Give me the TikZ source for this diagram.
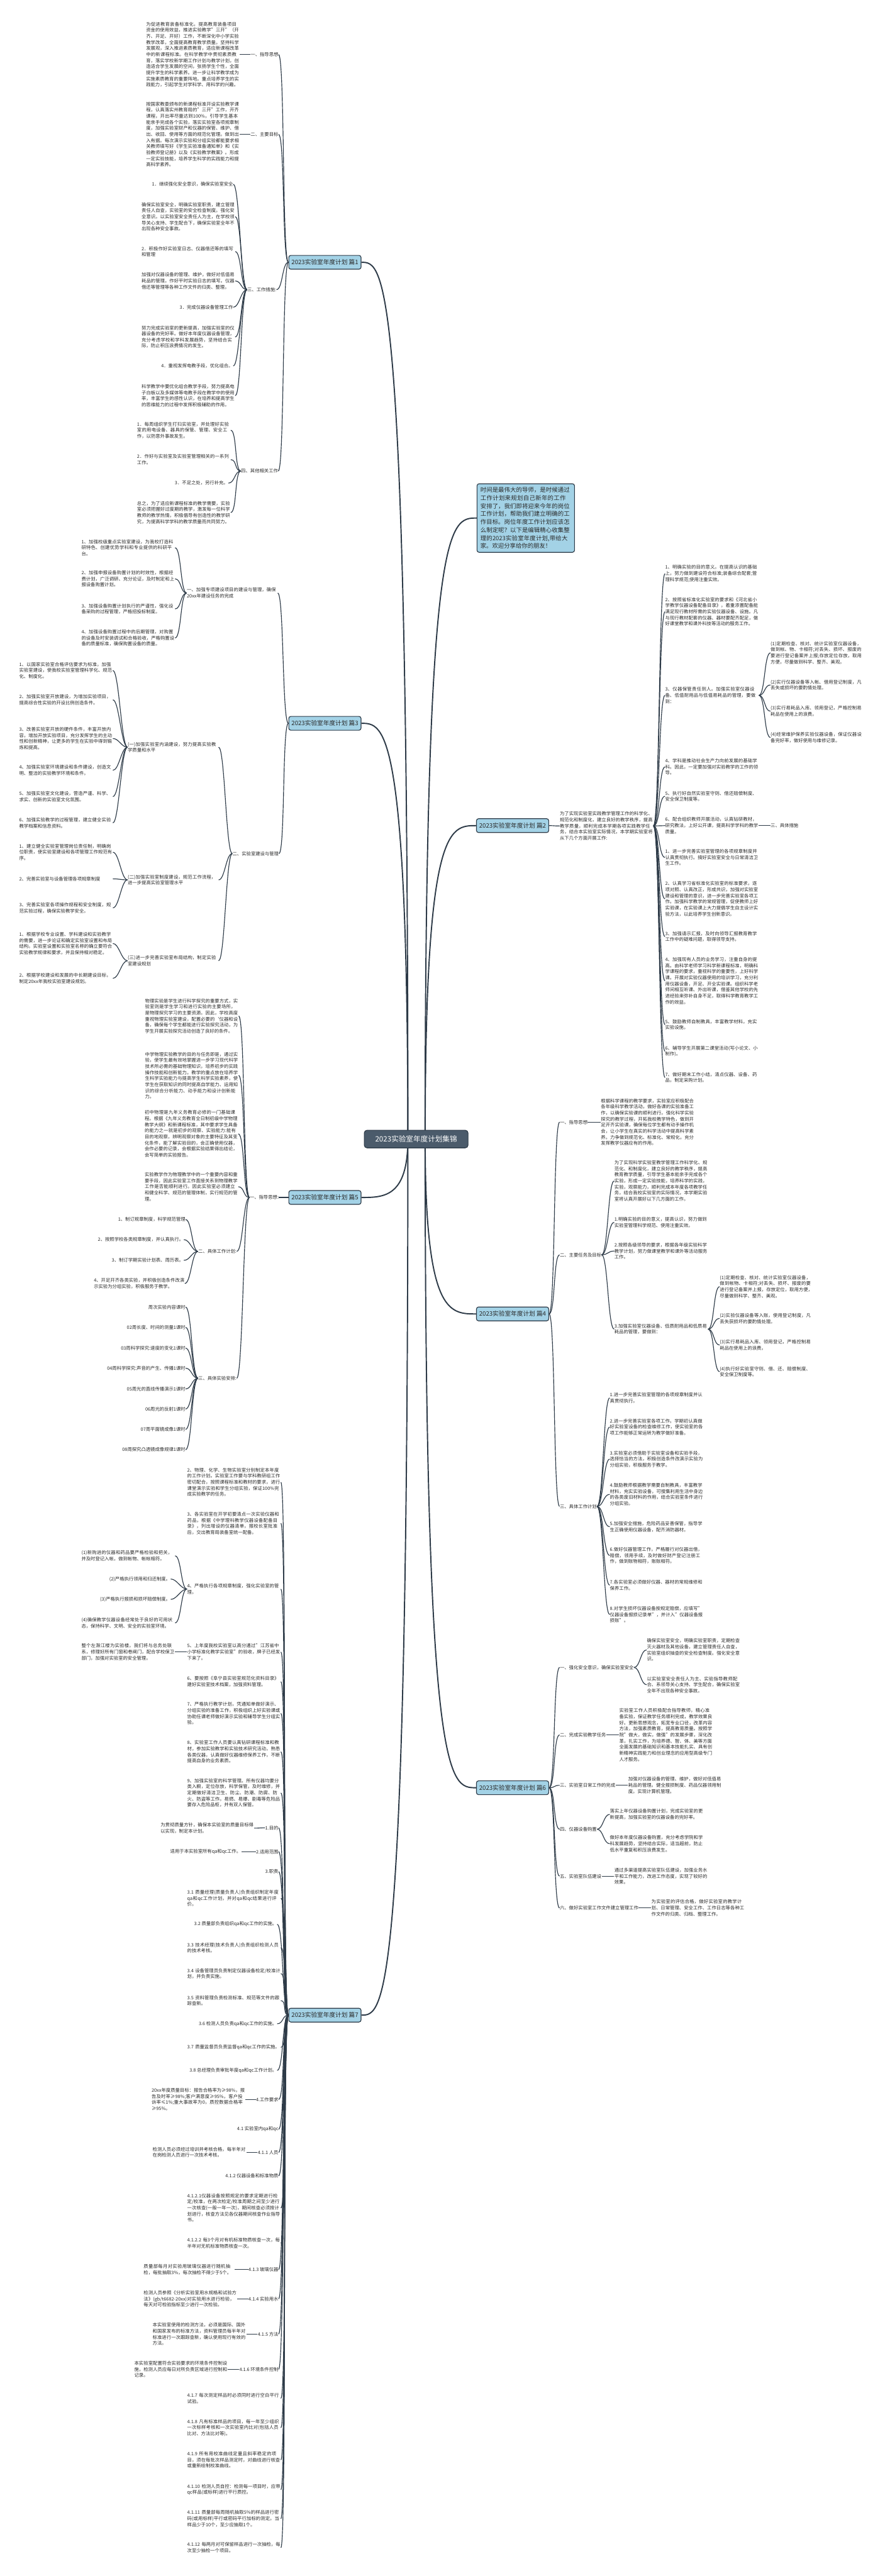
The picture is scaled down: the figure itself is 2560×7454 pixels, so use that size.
\documentclass[tikz,border=0pt]{standalone}
\usepackage{fontspec}
\setmainfont{Noto Sans CJK SC}
\XeTeXlinebreaklocale "zh"
\XeTeXlinebreakskip=0pt plus 0.4pt
\definecolor{linec}{HTML}{2E3B48}
\definecolor{boxc}{HTML}{A3D2E6}
\definecolor{cenc}{HTML}{4B5B6B}
\definecolor{txtc}{HTML}{2A2A2A}
\newcommand\tbfont{\fontsize{3.8pt}{5pt}\selectfont}
\pgfdeclarelayer{bg}
\pgfsetlayers{bg,main}
\tikzset{
 tb/.style={font=\tbfont, align=left, text width=2.7cm, inner sep=0pt, text=txtc},
 lb/.style={font=\tbfont, inner sep=0pt, text=txtc},
 pian/.style={draw=linec, line width=0.6pt, fill=boxc, rounded corners=0.6mm, minimum width=2.09cm, minimum height=0.40cm, inner sep=0pt, font=\fontsize{5pt}{6pt}\selectfont, text=txtc},
 conn/.style={draw=linec, line width=0.6pt},
 mainconn/.style={draw=linec, line width=1pt},
}
\newcommand\linkL[2]{\draw[conn] (#1.west) .. controls +(-18,0) and +(18,0) .. (#2.east);}
\newcommand\linkR[2]{\draw[conn] (#1.east) .. controls +(18,0) and +(-18,0) .. (#2.west);}
\begin{document}
\begin{tikzpicture}[x=0.01cm,y=-0.01cm]
\useasboundingbox (0,0) rectangle (2560,7454);
% ---------------- center
\node[draw=linec, line width=0.6pt, fill=cenc, text=white, rounded corners=0.8mm, minimum width=3.0cm, minimum height=0.51cm, inner sep=0pt, font=\fontsize{6pt}{7pt}\selectfont] (c) at (1204,3296) {2023实验室年度计划集锦};
% ---------------- boxes
\node[pian] (p1) at (940,759) {2023实验室年度计划 篇1};
\node[pian] (p3) at (940,2093) {2023实验室年度计划 篇3};
\node[pian] (p5) at (940,3465) {2023实验室年度计划 篇5};
\node[pian] (p7) at (940,5831) {2023实验室年度计划 篇7};
\node[pian] (p2) at (1483,2389) {2023实验室年度计划 篇2};
\node[pian] (p4) at (1483,3802) {2023实验室年度计划 篇4};
\node[pian] (p6) at (1483,5173) {2023实验室年度计划 篇6};
\node[draw=linec, line width=0.6pt, fill=boxc, rounded corners=0.6mm, text width=2.62cm, inner sep=1mm, align=left, font=\fontsize{4.85pt}{6.6pt}\selectfont, text=txtc, anchor=west] (intro) at (1379,1499) {时间是最伟大的导师，是时候通过工作计划来规划自己新年的工作安排了，我们即将迎来今年的岗位工作计划，帮助我们建立明确的工作目标。岗位年度工作计划应该怎么制定呢？以下是编辑精心收集整理的2023实验室年度计划,带给大家。欢迎分享给你的朋友！};
% ================= 篇1
\node[lb,anchor=east] (a1) at (806,158) {一、指导思想};
\node[tb,anchor=west] (a1t) at (422,158) {为促进教育装备标准化，提高教育装备项目资金的使用效益，推进实验教学"三开"（开齐、开足、开好）工作，不断深化中小学实验教学改革，全面提高教育教学质量。坚持科学发展观，深入推进素质教育，适应新课程改革中的新课程标准。在科学教学中贯彻素质教育，落实学校新学期工作计划与教学计划，创造适合学生发展的空间，张扬学生个性，全面提升学生的科学素养。进一步让科学教学成为实施素质教育的重要阵地。重点培养学生的实践能力，引起学生对学科学、用科学的兴趣。};
\node[lb,anchor=east] (a2) at (806,389) {二、主要目标};
\node[tb,anchor=west] (a2t) at (422,389) {按国家教委颁布的新课程标准开设实验教学课程，认真落实州教育局的"三开"工作，开齐课程，开出率尽量达到100\%，引导学生基本能亲手完成各个实验，落实实验室各项规章制度，加强实验室财产和仪器的保管、维护、借出、收回、使用等方面的规范化管理。做到出入有据。每次演示实验和分组实验都能要求相关教师填写好《学生实验准备通知单》和《实验教师登记册》以及《实验教学教案》。形成一定实验技能，培养学生科学的实践能力和提高科学素养。};
\node[lb,anchor=east] (a3) at (800,838) {三、工作措施:};
\node[lb,anchor=east] (a31) at (675,533) {1．继续强化安全意识，确保实验室安全};
\node[tb,anchor=west] (a32) at (409,627) {确保实验室安全，明确实验室职责，建立管理责任人自查，实验室的安全检查制度。强化安全意识。以实验室安全责任人为主，在学校领导关心支持、学生配合下，确保实验室全年不出现各种安全事故。};
\node[tb,anchor=west] (a33) at (409,728) {2．积极作好实验室日志、仪器借还等的填写和管理};
\node[tb,anchor=west] (a34) at (409,813) {加强对仪器设备的管理、维护，做好对低值易耗品的管理。作好平时实验日志的填写。仪器借还等管理等各种工作文件的归类、整理。};
\node[lb,anchor=east] (a35) at (675,889) {3．完成仪器设备管理工作};
\node[tb,anchor=west] (a36) at (409,975) {努力完成实验室的更新提高，加强实验室的仪器设备的完好率。做好本年度仪器设备管理，充分考虑学校和学科发展趋势，坚持结合实际，防止积压浪费情况的发生。};
\node[lb,anchor=east] (a37) at (675,1059) {4．重视发挥电教手段，优化组合。};
\node[tb,anchor=west] (a38) at (409,1145) {科学教学中要优化组合教学手段，努力提高电子白板以及多媒体等电教手段在教学中的使用率，丰富学生的感性认识，在培养和提高学生的思维能力的过程中发挥积极辅助的作用。};
\node[lb,anchor=east] (a4) at (805,1363) {四、其他相关工作};
\node[tb,anchor=west] (a41) at (396,1245) {1．每周组织学生打扫实验室，并处理好实验室的用电设备、器具的保管、管理、安全工作，以防意外事故发生。};
\node[tb,anchor=west] (a42) at (396,1330) {2．作好与实验室及实验室管理相关的一系列工作。};
\node[lb,anchor=east] (a43) at (661,1398) {3．不足之处，另行补充。};
\node[tb,anchor=west] (a44) at (396,1483) {总之，为了适应新课程标准的教学需要，实验室必须把握好过度期的教学，激发每一位科学教师的教学热情，积极倡导有创造性的教学研究，为提高科学学科的教学质量而共同努力。};
% ================= 篇3
\node[tb,anchor=west,text width=2.62cm] (b1) at (540,1716) {一、加强专项建设项目的建设与管理，确保20xx年建设任务的完成};
\node[tb,anchor=west] (b11) at (235,1585) {1、加强校级重点实验室建设，为我校打造科研特色、创建优势学科和专业提供的科研平台。};
\node[tb,anchor=west] (b12) at (235,1675) {2、加强申报设备购置计划的时效性，根据经费计划，广泛调研、充分论证，及时制定和上报设备购置计划。};
\node[tb,anchor=west] (b13) at (235,1762) {3、加强设备购置计划执行的严谨性，强化设备采购的过程管理，严格招投标制度。};
\node[tb,anchor=west] (b14) at (235,1846) {4、加强设备购置过程中的后期管理，对购置的设备及时安装调试和合格验收，严格购置设备的质量标准，确保购置设备的质量。};
\node[lb,anchor=east] (b2) at (807,2470) {二、实验室建设与管理};
\node[tb,anchor=west,text width=2.62cm] (b2a) at (369,2162) {(一)加强实验室内涵建设，努力提高实验教学质量和水平};
\node[tb,anchor=west] (b2a1) at (55,1940) {1、以国家实验室合格评估要求为标准，加强实验室建设，使我校实验室管理科学化、规范化、制度化。};
\node[tb,anchor=west] (b2a2) at (55,2025) {2、加强实验室开放建设，为增加实验项目，提高综合性实验的开设比例创造条件。};
\node[tb,anchor=west] (b2a3) at (55,2137) {3、改善实验室开放的硬件条件，丰富开放内容，增加开放实验项目，充分发挥学生的主动性和创新精神，让更多的学生在实验中得到锻炼和提高。};
\node[tb,anchor=west] (b2a4) at (55,2229) {4、加强实验室环境建设和条件建设，创造文明、整洁的实验教学环境和条件。};
\node[tb,anchor=west] (b2a5) at (55,2305) {5、加强实验室文化建设，营造严谨、科学、求实、创新的实验室文化氛围。};
\node[tb,anchor=west] (b2a6) at (55,2381) {6、加强实验教学的过程管理，建立健全实验教学档案和信息资料。};
\node[tb,anchor=west,text width=2.62cm] (b2b) at (369,2546) {(二)加强实验室制度建设，规范工作流程，进一步提高实验室管理水平};
\node[tb,anchor=west] (b2b1) at (55,2466) {1、建立健全实验室管理岗位责任制，明确岗位职责，使实验室建设和各项管理工作规范有序。};
\node[tb,anchor=west] (b2b2) at (55,2543) {2、完善实验室与设备管理各项规章制度};
\node[tb,anchor=west] (b2b3) at (55,2627) {3、完善实验室各项操作规程和安全制度，规范实验过程，确保实验教学安全。};
\node[tb,anchor=west,text width=2.62cm] (b2c) at (369,2780) {(三)进一步完善实验室布局结构，制定实验室建设规划};
\node[tb,anchor=west] (b2c1) at (55,2730) {1、根据学校专业设置、学科建设和实验教学的需要，进一步论证和确定实验室设置和布局结构。实验室设置和实验室名称的确立要符合实验教学规律和要求，并且保持相对稳定。};
\node[tb,anchor=west] (b2c2) at (55,2831) {2、根据学校建设和发展的中长期建设目标，制定20xx年我校实验室建设规划。};
% ================= 篇5
\node[lb,anchor=east] (c1) at (807,3465) {一、指导思想:};
\node[tb,anchor=west] (c11) at (419,2940) {物理实验是学生进行科学探究的重要方式，实验室则是学生学习和进行实验的主要场所，是物理探究学习的主要资源。因此，学校高度重视物理实验室建设，配置必要的`仪器和设备，确保每个学生都能进行实验探究活动，为学生开展实验探究活动创造了良好的条件。};
\node[tb,anchor=west] (c12) at (419,3112) {中学物理实验教学的目的与任务即是，通过实验，使学生最有效地掌握进一步学习现代科学技术所必需的基础物理知识，培养初步的实践操作技能和创新能力。教学的重点放在培养学生科学实验能力与提高学生科学实验素养，使学生在获取知识的同时提高自学能力、运用知识的综合分析能力、动手能力和设计创新能力。};
\node[tb,anchor=west] (c13) at (418,3281) {初中物理是九年义务教育必修的一门基础课程。根据《九年义务教育全日制初级中学物理教学大纲》和新课程标准，其中要求学生具备的能力之一就是初步的观察、实验能力:能有目的地观察，辨明观察对象的主要特征及其变化条件，能了解实验目的，会正确使用仪器，会作必要的记录，会根据实验结果得出结论，会写简单的实验报告。};
\node[tb,anchor=west] (c14) at (418,3434) {实验教学作为物理教学中的一个重要内容和重要手段，因此实验室工作直接关系到物理教学工作是否能顺利进行。因此实验室必须建立和健全科学、规范的管理体制，实行规范的管理。};
\node[lb,anchor=east] (c2) at (685,3621) {二、具体工作计划:};
\node[lb,anchor=east] (c21) at (537,3529) {1、制订规章制度，科学规范管理};
\node[lb,anchor=east] (c22) at (532,3587) {2、按照学校各类规章制度，并认真执行。};
\node[lb,anchor=east] (c23) at (532,3647) {3、制订学期实验计划表、周历表。};
\node[tb,anchor=west,text width=2.62cm] (c24) at (271,3714) {4、开足开齐各类实验，并积极创造条件改演示实验为分组实验，积极服务于教学。};
\node[lb,anchor=east] (c3) at (685,3988) {三、具体实验安排:};
\node[lb,anchor=east] (c31) at (537,3782) {周次实验内容课时};
\node[lb,anchor=east] (c32) at (537,3841) {02周长度、时间的测量1课时};
\node[lb,anchor=east] (c33) at (537,3901) {03周科学探究:速度的变化1课时};
\node[lb,anchor=east] (c34) at (537,3959) {04周科学探究:声音的产生、传播1课时};
\node[lb,anchor=east] (c35) at (537,4019) {05周光的直线传播演示1课时};
\node[lb,anchor=east] (c36) at (537,4077) {06周光的反射1课时};
\node[lb,anchor=east] (c37) at (537,4136) {07周平面镜成像1课时};
\node[lb,anchor=east] (c38) at (537,4195) {08周探究凸透镜成像规律1课时};
% ================= 篇7
\node[tb,anchor=west] (d2) at (541,4289) {2、物理、化学、生物实验室分别制定本年度的工作计划。实验室工作要与学科教研组工作密切配合，按照课程标准和教材的要求，进行课堂演示实验和学生分组实验，保证100\%完成实验教学的任务。};
\node[tb,anchor=west] (d3) at (541,4408) {3、各实验室在开学初要清点一次实验仪器和药品，根据《中学理科教学仪器设备配备目录》，列出增设的仪器清单，报校长室批准后，交出教育局装备室统一配备。};
\node[tb,anchor=west] (d4) at (541,4598) {4、严格执行各项规章制度，强化实验室的管理。};
\node[tb,anchor=west] (d41) at (235,4502) {(1)新购进的仪器和药品要严格检验和把关，并及时登记入帐，做到帐物、帐帐相符。};
\node[lb,anchor=east] (d42) at (494,4569) {(2)严格执行领用和归还制度。};
\node[lb,anchor=east] (d43) at (494,4628) {(3)严格执行报损和损坏赔偿制度。};
\node[tb,anchor=west] (d44) at (235,4696) {(4)确保教学仪器设备经常处于良好的可用状态，保持科学、文明、安全的实验室环境。};
\node[tb,anchor=west] (d5) at (541,4780) {5、上年度我校实验室以高分通过"江苏省中小学标准化教学实验室"的验收，牌子已经发下来了。};
\node[tb,anchor=west] (d51) at (235,4780) {整个左滁江楼为实验楼，我们将与总务处联系，修理好所有门窗和卷闸门，配合学校保卫部门，加强对实验室的安全管理。};
\node[tb,anchor=west] (d6) at (541,4866) {6、要按照《阜宁县实验室规范化资料目录》建好实验室技术档案，加强资料管理。};
\node[tb,anchor=west] (d7) at (541,4958) {7、严格执行教学计划，凭通知单做好演示、分组实验的准备工作，积极组织上好实验课或协助任课老师做好演示实验和辅导学生分组实验。};
\node[tb,anchor=west] (d8) at (541,5069) {8、实验室工作人员要认真钻研课程标准和教材，参加实验教学和实验技术研究活动，熟悉各类仪器，认真做好仪器维修保养工作，不断提高自身的业务素质。};
\node[tb,anchor=west] (d9) at (541,5188) {9、加强实验室的科学管理。所有仪器均要分类入橱，定位存放，科学保管，及时维修，并定期做好清洁卫生、防尘、防潮、防腐、防火、防盗等工作。易燃、易爆、剧毒等危险品要存入危险品柜，并有双人保管。};
\node[lb,anchor=east] (q1) at (806,5289) {1.目的};
\node[tb,anchor=west] (q1t) at (464,5290) {为贯彻质量方针，确保本实验室的质量目标得以实现，制定本计划。};
\node[lb,anchor=east] (q2) at (806,5358) {2.适用范围};
\node[lb,anchor=east] (q2t) at (698,5358) {适用于本实验室所有qa和qc工作。};
\node[lb,anchor=east] (q3) at (806,5416) {3.职责};
\node[tb,anchor=west] (q31) at (541,5493) {3.1 质量经理(质量负责人)负责组织制定年度qa和qc工作计划，并对qa和qc结果进行评价。};
\node[lb,anchor=east] (q32) at (802,5568) {3.2 质量部负责组织qa和qc工作的实施。};
\node[tb,anchor=west] (q33) at (541,5636) {3.3 技术经理(技术负责人)负责组织检测人员的技术考核。};
\node[tb,anchor=west] (q34) at (541,5711) {3.4 设备管理员负责制定仪器设备检定/校准计划，并负责实施。};
\node[tb,anchor=west] (q35) at (541,5789) {3.5 资料管理负责检测标准、规范等文件的跟踪查新。};
\node[lb,anchor=east] (q36) at (802,5856) {3.6 检测人员负责qa和qc工作的实施。};
\node[tb,anchor=west] (q37) at (541,5924) {3.7 质量监督员负责监督qa和qc工作的实施。};
\node[lb,anchor=east] (q38) at (802,5991) {3.8 总经理负责审批年度qa和qc工作计划。};
\node[lb,anchor=east] (q4) at (806,6075) {4.工作要求};
\node[tb,anchor=west] (q4t) at (438,6075) {20xx年度质量目标：报告合格率为≥98\%，报告及时率≥98\%;客户满意度≥95\%，客户投诉率≤1\%;重大事故率为0，质控数据合格率≥95\%。};
\node[lb,anchor=east] (q41) at (806,6161) {4.1 实验室内qa和qc};
\node[lb,anchor=east] (q411) at (806,6228) {4.1.1 人员};
\node[tb,anchor=west] (q411t) at (441,6228) {检测人员必须经过培训并考核合格，每半年对在岗检测人员进行一次技术考核。};
\node[lb,anchor=east] (q412) at (806,6296) {4.1.2 仪器设备和标准物质};
\node[tb,anchor=west] (q4121) at (541,6389) {4.1.2.1仪器设备按照规定的要求定期进行检定/校准，在两次检定/校准周期之间至少进行一次核查(一般一年一次)，期间核查必须按计划进行，核查方法见各仪器期间核查作业指导书。};
\node[tb,anchor=west] (q4122) at (541,6491) {4.1.2.2 每3个月对有机标准物质核查一次，每半年对无机标准物质核查一次。};
\node[lb,anchor=east] (q413) at (806,6567) {4.1.3 玻璃仪器};
\node[tb,anchor=west,text width=2.62cm] (q413t) at (415,6567) {质量部每月对实验用玻璃仪器进行随机抽检，每批抽取3\%，每次抽检不得少于5个。};
\node[lb,anchor=east] (q414) at (806,6652) {4.1.4 实验用水};
\node[tb,anchor=west] (q414t) at (415,6652) {检测人员参照《分析实验室用水规格和试验方法》(gb/t6682-20xx)对实验用水进行检验，每天对可检验指标至少进行一次检验。};
\node[lb,anchor=east] (q415) at (806,6754) {4.1.5 方法};
\node[tb,anchor=west] (q415t) at (441,6754) {本实验室使用的检测方法，必须是国际、国外和国家发布的标准方法，资料管理员每半年对标准进行一次跟踪查新，确认使用现行有效的方法。};
\node[lb,anchor=east] (q416) at (806,6856) {4.1.6 环境条件控制};
\node[tb,anchor=west] (q416t) at (388,6856) {本实验室配置符合实验要求的环境条件控制设施，检测人员应每日对所负责区域进行控制和记录。};
\node[tb,anchor=west] (q417) at (541,6940) {4.1.7 每次测定样品时必须同时进行空白平行试验。};
\node[tb,anchor=west] (q418) at (541,7025) {4.1.8 凡有标准样品的项目，每一年至少组织一次标样考核和一次实验室内比对(包括人员比对、方法比对等)。};
\node[tb,anchor=west] (q419) at (541,7118) {4.1.9 所有用校准曲线定量且斜率稳定的项目，须在每批次样品测定时，对曲线进行核查或重新绘制校准曲线。};
\node[tb,anchor=west] (q4110) at (541,7204) {4.1.10 检测人员自控：检测每一项目时，应带qc样品(或标样)进行平行质控。};
\node[tb,anchor=west] (q4111) at (541,7288) {4.1.11 质量部每周随机抽取5\%的样品进行密码(或用标样)平行或密码平行加标的测定。当样品少于10个，至少应抽取1个。};
\node[tb,anchor=west] (q4112) at (541,7372) {4.1.12 每两月对可保留样品进行一次抽检，每次至少抽检一个项目。};
% ================= 篇2
\node[tb,anchor=west] (e0) at (1619,2390) {为了实现实验室实践教学管理工作的科学化、规范化和制度化，建立良好的教学秩序，提高教学质量，顺利完成本学期各项实践教学任务，结合本实验室实际情况，本学期实验室将从下几个方面开展工作:};
\node[tb,anchor=west] (e1) at (1924,1660) {1、明确实验的目的意义。在提高认识的基础上，努力做到建设符合标准;装备综合配套;管理科学规范;使用注重实效。};
\node[tb,anchor=west] (e2) at (1924,1770) {2、按照省标准化实验室的要求和《河北省小学教学仪器设备配备目录》，着重添置配备能满足现行教材所需的实验仪器设备、设施。凡与现行教材配套的仪器、器材要配齐配足，做好课堂教学和课外科技等活动的服务工作。};
\node[tb,anchor=west] (e3) at (1924,2012) {3、仪器保管责任到人。加强实验室仪器设备、低值耐用品与低值易耗品的管理，要做到：};
\node[tb,anchor=west] (e31) at (2229,1889) {(1)定期检查、核对、统计实验室仪器设备，做到帐、物、卡相符;对丢失、损坏、报废的要进行登记备案并上报;存放定位存放，取用方便，尽量做到科学、整齐、美观。};
\node[tb,anchor=west] (e32) at (2229,1982) {(2)实行仪器设备等入帐、借用登记制度，凡丢失或损坏的要酌情处理。};
\node[tb,anchor=west] (e33) at (2229,2058) {(3)实行易耗品入库、领用登记，严格控制易耗品在使用上的浪费。};
\node[tb,anchor=west] (e34) at (2229,2134) {(4)经常维护保养实验仪器设备，保证仪器设备完好率，做好使用与维修记录。};
\node[tb,anchor=west] (e4) at (1924,2219) {4、学科是推动社会生产力向前发展的基础学科。因此，一定要加强对实验教学的工作的领导。};
\node[tb,anchor=west] (e5) at (1924,2304) {5、执行好自然实验室守则、借还赔偿制度、安全保卫制度等。};
\node[tb,anchor=west] (e6) at (1924,2389) {6、配合组织教师开展活动，认真钻研教材，研究教法，上好公开课，提高科学学科的教学质量。};
\node[lb,anchor=west] (e61) at (2229,2389) {三、具体措施};
\node[tb,anchor=west] (e7) at (1924,2481) {1、进一步完善实验室管理的各项规章制度并认真贯彻执行。搞好实验室安全与日常清洁卫生工作。};
\node[tb,anchor=west] (e8) at (1924,2601) {2、认真学习省标准化实验室的标准要求，逐项对照、认真改正，形成共识，加强对实验室建设和管理的意识，进一步完善实验室各项工作。加强科学教学的常规管理，促使教师上好实验课，在实验课上大力提倡学生自主设计实验方法，以此培养学生创新意识。};
\node[tb,anchor=west] (e9) at (1924,2710) {3、加强请示汇报，及时向领导汇报教育教学工作中的疑难问题，取得领导支持。};
\node[tb,anchor=west] (e10) at (1924,2838) {4、加强现有人员的业务学习，注重自身的提高。由科学老师学习科学新课程标准，明确科学课程的要求，重视科学的重要性，上好科学课。开展对实验仪器使用的培训学习，充分利用仪器设备，开足、开全实验课。组织科学老师间相互听课、外出听课，借鉴其他学校的先进经验来弥补自身不足，取得科学教育教学工作的效益。};
\node[tb,anchor=west] (e11) at (1924,2965) {5、鼓励教师自制教具，丰富教学材料，充实实验设施。};
\node[tb,anchor=west] (e12) at (1924,3042) {6、辅导学生开展第二课堂活动(写小论文、小制作)。};
\node[tb,anchor=west] (e13) at (1924,3118) {7、做好期末工作小结，清点仪器、设备、药品，制定采购计划。};
% ================= 篇4
\node[lb,anchor=west] (f1) at (1619,3247) {一、指导思想};
\node[tb,anchor=west] (f1t) at (1738,3247) {根据科学课程的教学要求，实验室应积极配合各年级科学教学活动，做好各课的实验准备工作，以确保实验课的顺利进行。强化科学实验探究的教学过程，开拓我校教学特色，做到开足开齐实验课，确保每位学生都有动手操作机会，让小学生在真实的科学活动中提高科学素养。力争做到规范化、标准化、常规化，充分发挥教学仪器应有的作用。};
\node[lb,anchor=west] (f2) at (1619,3631) {二、主要任务及目标};
\node[tb,anchor=west] (f21) at (1777,3417) {为了实现科学实验室教学管理工作科学化、规范化、和制度化，建立良好的教学秩序，提高教育教学质量，引导学生基本能亲手完成各个实验，形成一定实验技能，培养科学的实践，实验，观察能力，顺利完成本年度各项教学任务，结合我校实验室的实际情况，本学期实验室将认真开展好以下几方面的工作。};
\node[tb,anchor=west] (f22) at (1777,3537) {1.明确实验的目的意义，提高认识，努力做到实验室管理科学规范、使用注重实效。};
\node[tb,anchor=west] (f23) at (1777,3620) {2.按照各级领导的要求，根据各年级实验科学教学计划，努力做课堂教学和课外等活动服务工作。};
\node[tb,anchor=west] (f24) at (1777,3846) {3.加强实验室仪器设备、低质耐用品和低质易耗品的管理，要做到：};
\node[tb,anchor=west] (f241) at (2082,3723) {(1)定期检查、核对、统计实验室仪器设备，做到帐物、卡相符;对丢失、损坏、报废的要进行登记备案并上报，存放定位，取用方便，尽量做到科学、整齐、美观。};
\node[tb,anchor=west] (f242) at (2082,3815) {(2)实验仪器设备等入账，使用登记制度，凡丢失获损坏的要酌情处理。};
\node[tb,anchor=west] (f243) at (2082,3892) {(3)实行易耗品入库、领用登记，严格控制易耗品在使用上的浪费。};
\node[tb,anchor=west] (f244) at (2082,3969) {(4)执行好实验室守则、借、还、赔偿制度、安全保卫制度等。};
\node[lb,anchor=west] (f3) at (1619,4359) {三、具体工作计划};
\node[tb,anchor=west] (f31) at (1764,4045) {1.进一步完善实验室管理的各项规章制度并认真贯彻执行。};
\node[tb,anchor=west] (f32) at (1764,4129) {2.进一步完善实验室各项工作。学期初认真做好实验室设备的检查维修工作，使实验室的各项工作能够正常运转为教学做好准备。};
\node[tb,anchor=west] (f33) at (1764,4222) {3.实验室必须借助于实验室设备和实验手段，选择恰当的方法，积极创造条件改演示实验为分组实验，积极服务于教学。};
\node[tb,anchor=west] (f34) at (1764,4324) {4.鼓励教师根据教学需要自制教具，丰富教学材料，充实实验设备，可搜集利用生活中身边的各类废旧材料的作用，结合实验室条件进行分组实验。};
\node[tb,anchor=west] (f35) at (1764,4418) {5.加强安全措施，危险药品妥善保管，指导学生正确使用仪器设备，配齐消防器材。};
\node[tb,anchor=west] (f36) at (1764,4501) {6.做好仪器管理工作，严格履行对仪器出借，赔偿，领用手续，及时做好财产登记注册工作，做到账物相符，账账相符。};
\node[tb,anchor=west] (f37) at (1764,4587) {7.各实验室必须做好仪器、器材的常规维修和保养工作。};
\node[tb,anchor=west] (f38) at (1764,4672) {8.对学生损坏仪器设备按规定赔偿，应填写"仪器设备报损记录单"，并计入"仪器设备报损账"。};
% ================= 篇6
\node[lb,anchor=west] (g1) at (1619,4825) {一、强化安全意识，确保实验室安全};
\node[tb,anchor=west] (g11) at (1871,4774) {确保实验室安全，明确实验室职责，定期检查灭火器材及其他设备，建立管理责任人自查，实验室组织抽查的安全检查制度。强化安全意识。};
\node[tb,anchor=west] (g12) at (1871,4875) {以实验室安全责任人为主、实验指导教师配合、系领导关心支持、学生配合，确保实验室全年不出现各种安全事故。};
\node[lb,anchor=west] (g2) at (1619,5020) {二、完成实验教学任务};
\node[tb,anchor=west] (g21) at (1791,5020) {实验室工作人员积极配合指导教师，精心准备实验，保证教学任务顺利完成，教学效果良好。更新思想观念，拓宽专业口径，改革内容方法，加强素质教育，提高教育质量。按照学院"做大，做实，做强"的发展步骤，深化改革，扎实工作，为培养德、智、体、美等方面全面发展的基础知识和基本技能扎实、具有创新精神实践能力和创业理念的应用型高级专门人才服务。};
\node[lb,anchor=west] (g3) at (1619,5166) {三、实验室日常工作的完成};
\node[tb,anchor=west] (g31) at (1817,5166) {加强对仪器设备的管理、维护，做好对低值易耗品的管理。健全报损制度、药品仪器领用制度。实现计算机管理。};
\node[lb,anchor=west] (g4) at (1619,5293) {四、仪器设备购置};
\node[tb,anchor=west] (g41) at (1764,5250) {落实上年仪器设备购置计划，完成实验室的更新提高，加强实验室的仪器设备的完好率。};
\node[tb,anchor=west] (g42) at (1764,5335) {做好本年度仪器设备购置，充分考虑学院和学科发展趋势，坚持结合实际，适当超前，防止低水平重复和积压浪费发生。};
\node[lb,anchor=west] (g5) at (1619,5429) {五、实验室队伍建设};
\node[tb,anchor=west] (g51) at (1777,5429) {通过多渠道提高实验室队伍建设，加强业务水平和工作能力，改进工作态度，实现了较好的效果。};
\node[lb,anchor=west] (g6) at (1619,5521) {六、做好实验室工作文件建立管理工作};
\node[tb,anchor=west] (g61) at (1884,5521) {为实验室的评估合格，做好实验室的教学计划、日常管理、安全工作、工作日志等各种工作文件的归类、归档、整理工作。};
% ================= connectors
\begin{pgfonlayer}{bg}
\fill[white] (0,0) rectangle (2560,7454);
\draw[mainconn] (1230,3296) .. controls (1230,1499) and (1300,1499) .. (intro.west);
\draw[mainconn] (1230,3296) .. controls (1230,2389) and (1300,2389) .. (p2.west);
\draw[mainconn] (1230,3296) .. controls (1230,3802) and (1300,3802) .. (p4.west);
\draw[mainconn] (1230,3296) .. controls (1230,5173) and (1300,5173) .. (p6.west);
\draw[mainconn] (1180,3296) .. controls (1180,759) and (1110,759) .. (p1.east);
\draw[mainconn] (1180,3296) .. controls (1180,2093) and (1110,2093) .. (p3.east);
\draw[mainconn] (1180,3296) .. controls (1180,3465) and (1110,3465) .. (p5.east);
\draw[mainconn] (1180,3296) .. controls (1180,5831) and (1110,5831) .. (p7.east);
% 篇1
\foreach \n in {a1,a2,a3,a4} {\linkL{p1}{\n}}
\linkL{a1}{a1t}\linkL{a2}{a2t}
\foreach \n in {a31,a32,a33,a34,a35,a36,a37,a38} {\linkL{a3}{\n}}
\foreach \n in {a41,a42,a43,a44} {\linkL{a4}{\n}}
% 篇3
\linkL{p3}{b1}\linkL{p3}{b2}
\foreach \n in {b11,b12,b13,b14} {\linkL{b1}{\n}}
\foreach \n in {b2a,b2b,b2c} {\linkL{b2}{\n}}
\foreach \n in {b2a1,b2a2,b2a3,b2a4,b2a5,b2a6} {\linkL{b2a}{\n}}
\foreach \n in {b2b1,b2b2,b2b3} {\linkL{b2b}{\n}}
\foreach \n in {b2c1,b2c2} {\linkL{b2c}{\n}}
% 篇5
\linkL{p5}{c1}
\foreach \n in {c11,c12,c13,c14,c2,c3} {\linkL{c1}{\n}}
\foreach \n in {c21,c22,c23,c24} {\linkL{c2}{\n}}
\foreach \n in {c31,c32,c33,c34,c35,c36,c37,c38} {\linkL{c3}{\n}}
% 篇7
\foreach \n in {d2,d3,d4,d5,d6,d7,d8,d9,q1,q2,q3,q31,q32,q33,q34,q35,q36,q37,q38,q4,q41,q411,q412,q4121,q4122,q413,q414,q415,q416,q417,q418,q419,q4110,q4111,q4112} {\linkL{p7}{\n}}
\foreach \n in {d41,d42,d43,d44} {\linkL{d4}{\n}}
\linkL{d5}{d51}\linkL{q1}{q1t}\linkL{q2}{q2t}\linkL{q4}{q4t}\linkL{q411}{q411t}
\linkL{q413}{q413t}\linkL{q414}{q414t}\linkL{q415}{q415t}\linkL{q416}{q416t}
% 篇2
\linkR{p2}{e0}
\foreach \n in {e1,e2,e3,e4,e5,e6,e7,e8,e9,e10,e11,e12,e13} {\linkR{e0}{\n}}
\foreach \n in {e31,e32,e33,e34} {\linkR{e3}{\n}}
\linkR{e6}{e61}
% 篇4
\foreach \n in {f1,f2,f3} {\linkR{p4}{\n}}
\linkR{f1}{f1t}
\foreach \n in {f21,f22,f23,f24} {\linkR{f2}{\n}}
\foreach \n in {f241,f242,f243,f244} {\linkR{f24}{\n}}
\foreach \n in {f31,f32,f33,f34,f35,f36,f37,f38} {\linkR{f3}{\n}}
% 篇6
\foreach \n in {g1,g2,g3,g4,g5,g6} {\linkR{p6}{\n}}
\linkR{g1}{g11}\linkR{g1}{g12}\linkR{g2}{g21}\linkR{g3}{g31}
\linkR{g4}{g41}\linkR{g4}{g42}\linkR{g5}{g51}\linkR{g6}{g61}
\end{pgfonlayer}
\end{tikzpicture}
\end{document}
